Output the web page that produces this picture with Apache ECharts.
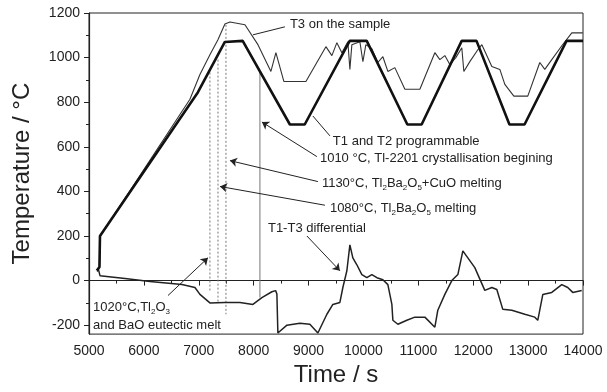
<!DOCTYPE html>
<html>
<head>
<meta charset="utf-8">
<script src="https://cdn.jsdelivr.net/npm/echarts@6/dist/echarts.min.js"></script>
<style>
html,body{margin:0;padding:0;background:#fff}
#chart{width:607px;height:392px}
</style>
</head>
<body>
<div id="chart"></div>
<script>
// T1 and T2 programmable
var t1Time = [5140, 5190, 5200, 6985, 7475, 7800, 8660, 8930, 9750, 10060, 10800, 11060, 11790, 12060, 12660, 12935, 13700, 14000];
var t1Temp = [45, 60, 200, 845, 1070, 1075, 700, 700, 1075, 1075, 700, 700, 1075, 1075, 700, 700, 1075, 1075];

// T3 on the sample
var t3Time = [5150, 5195, 5205, 6839, 7021, 7203, 7349, 7476, 7568, 7841, 8078, 8314, 8405, 8550, 8952, 9316, 9425, 9516, 9607, 9716, 9753, 9789, 9935, 9990, 10044, 10153, 10263, 10354, 10445, 10572, 10755, 11028, 11301, 11392, 11483, 11574, 11683, 11792, 11829, 11938, 12084, 12157, 12339, 12485, 12576, 12740, 12994, 13213, 13304, 13431, 13614, 13796, 13996];
var t3Temp = [40, 65, 200, 813, 924, 1013, 1080, 1151, 1160, 1147, 1058, 938, 1022, 893, 893, 1049, 1009, 1067, 1022, 1071, 947, 1058, 1071, 982, 1058, 1040, 978, 1004, 938, 955, 858, 858, 1022, 991, 1009, 969, 1000, 1044, 938, 982, 1035, 1058, 960, 947, 880, 827, 827, 978, 947, 991, 1053, 1111, 1111];

// T1-T3 differential
var diffTime = [5164, 5200, 5656, 6111, 6694, 6930, 7021, 7203, 7477, 7750, 7986, 8150, 8332, 8400, 8423, 8441, 8606, 8842, 9024, 9170, 9334, 9443, 9571, 9625, 9698, 9753, 9807, 9880, 9971, 10062, 10153, 10245, 10354, 10445, 10518, 10536, 10627, 10791, 10936, 11119, 11301, 11355, 11483, 11610, 11720, 11811, 11902, 12029, 12211, 12339, 12430, 12539, 12703, 12940, 13122, 13176, 13268, 13431, 13613, 13722, 13813, 13977];
var diffTemp = [58, 22, 9, -4, -18, -31, -62, -100, -98, -98, -107, -76, -50, -45, -60, -235, -200, -191, -196, -235, -151, -107, -98, -31, 44, 160, 102, 71, 27, 13, 27, 13, 4, -18, -107, -178, -196, -178, -164, -164, -209, -133, -62, 0, 27, 133, 102, 58, -44, -31, -40, -129, -133, -151, -164, -178, -62, -53, -18, -31, -53, -44];

// vertical event markers
var markTime = [7203, 7350, 7495, 8114];
var markTop = [933, 991, 1147, 940];
var markBottom = [-44, -98, -151, -76];
var markDotted = [true, true, true, false];

// tick labels
var yLabels = [-200, 0, 200, 400, 600, 800, 1000, 1200];
var yMinor = [-100, 100, 300, 500, 700, 900, 1100];

// annotations
var annoText = [
  'T3 on the sample',
  'T1 and T2 programmable',
  '1010 °C, Tl-2201 crystallisation begining',
  '1130°C, Tl{s|2}Ba{s|2}O{s|5}+CuO melting',
  '1080°C, Tl{s|2}Ba{s|2}O{s|5} melting',
  'T1-T3 differential',
  '1020°C,Tl{s|2}O{s|3}',
  'and BaO eutectic melt'
];
var annoPos = [[8660, 1147], [9443, 622], [9207, 547], [9243, 436], [9389, 324], [8260, 236], [5073, -120], [5073, -200]];
var leaderFrom = [[8569, 1138], [9389, 649], [9152, 556], [9170, 444], [9298, 338], [8970, 200], [6439, -67]];
var leaderTo = [[7986, 1102], [9079, 738], [8150, 711], [7568, 538], [7386, 422], [9571, 44], [7167, 102]];
var leaderArrow = [false, false, true, true, true, true, true];

function zip(a, b) {
  var out = [];
  for (var i = 0; i < a.length; i++) out.push([a[i], b[i]]);
  return out;
}
function plain(v) { return String(v); }

var font = 'Liberation Sans, Arial, sans-serif';
var chart = echarts.init(document.getElementById('chart'));

var series = [
  {
    name: 'T1', type: 'line', data: zip(t1Time, t1Temp), showSymbol: false,
    lineStyle: { color: '#111', width: 2.6 }, z: 4
  },
  {
    name: 'T3', type: 'line', data: zip(t3Time, t3Temp), showSymbol: false,
    lineStyle: { color: '#333', width: 1.1 }, z: 3
  },
  {
    name: 'diff', type: 'line', data: zip(diffTime, diffTemp), showSymbol: false,
    lineStyle: { color: '#222', width: 1.5 }, z: 3
  }
];

for (var i = 0; i < markTime.length; i++) {
  series.push({
    type: 'line', showSymbol: false, z: 2,
    data: [[markTime[i], markTop[i]], [markTime[i], markBottom[i]]],
    lineStyle: { color: '#777', width: 1, type: markDotted[i] ? [2, 2] : 'solid' }
  });
}

var leaders = [];
for (var j = 0; j < leaderFrom.length; j++) {
  leaders.push([
    { coord: leaderFrom[j], symbol: 'none' },
    { coord: leaderTo[j], symbol: leaderArrow[j] ? 'arrow' : 'none' }
  ]);
}
series.push({
  type: 'line', data: [], z: 5,
  markLine: {
    silent: true, symbolSize: 7, label: { show: false },
    lineStyle: { color: '#222', width: 1, type: 'solid' },
    data: leaders
  }
});

var option = {
  animation: false,
  backgroundColor: '#fff',
  textStyle: { fontFamily: font },
  grid: { left: 89, right: 24, top: 13, bottom: 55, show: true, borderColor: '#222', borderWidth: 1 },
  xAxis: {
    type: 'value', min: 5000, max: 14000, interval: 1000,
    name: 'Time / s', nameLocation: 'middle', nameGap: 28,
    nameTextStyle: { fontSize: 24, color: '#222', fontFamily: font },
    axisLine: { lineStyle: { color: '#222', width: 1.2 } },
    axisTick: { length: 5, lineStyle: { color: '#222' } },
    minorTick: { show: true, splitNumber: 2, length: 3, lineStyle: { color: '#222' } },
    axisLabel: { fontSize: 14, color: '#222', margin: 10, fontFamily: font, formatter: plain },
    splitLine: { show: false }
  },
  yAxis: [
    {
      type: 'value', min: -240, max: 1200,
      name: 'Temperature / °C', nameLocation: 'middle', nameGap: 55,
      nameTextStyle: { fontSize: 24, color: '#222', fontFamily: font },
      axisLine: { show: true, lineStyle: { color: '#222', width: 1.2 } },
      axisTick: { show: true, length: 5, customValues: yLabels, lineStyle: { color: '#222' } },
      axisLabel: { fontSize: 14, color: '#222', margin: 9, customValues: yLabels, fontFamily: font, formatter: plain },
      splitLine: { show: false }
    },
    {
      type: 'value', min: -240, max: 1200, position: 'left',
      axisLine: { show: false },
      axisTick: { show: true, length: 3, customValues: yMinor, lineStyle: { color: '#222' } },
      axisLabel: { show: false },
      splitLine: { show: false }
    }
  ],
  series: series
};

chart.setOption(option);

var graphics = [];
for (var k = 0; k < annoText.length; k++) {
  var p = chart.convertToPixel({ gridIndex: 0 }, annoPos[k]);
  graphics.push({
    type: 'text', x: p[0], y: p[1], z: 10,
    style: {
      text: annoText[k], fill: '#222', fontSize: 13, fontFamily: font,
      verticalAlign: 'middle', align: 'left', lineHeight: 17,
      rich: { s: { fontSize: 8, fontFamily: font, fill: '#222', verticalAlign: 'bottom' } }
    }
  });
}
chart.setOption({ graphic: graphics });
</script>
</body>
</html>
